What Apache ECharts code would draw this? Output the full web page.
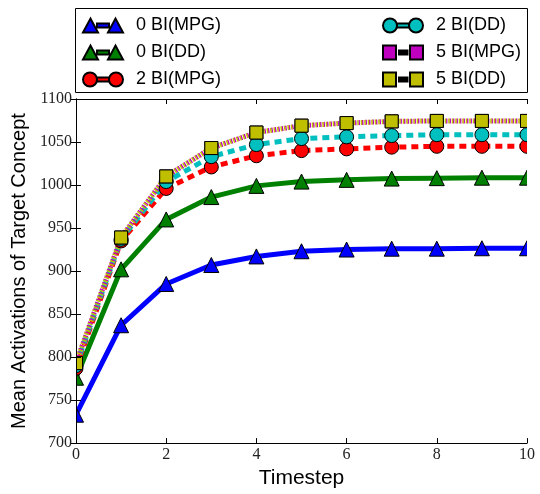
<!DOCTYPE html>
<html>
<head>
<meta charset="utf-8">
<script src="https://cdn.jsdelivr.net/npm/echarts@6/dist/echarts.min.js"></script>
<style>html,body{margin:0;padding:0;background:#fff;}#c{width:540px;height:494px;}</style>
</head>
<body>
<div id="c"></div>
<script>
var timesteps = [0, 1, 2, 3, 4, 5, 6, 7, 8, 9, 10];
var bi0MPG = [733, 837, 885, 907, 917, 923, 925, 926, 926, 926.5, 926.5];
var bi0DD  = [776, 902, 960, 986, 999, 1004, 1006, 1007.5, 1008, 1008.5, 1008.5];
var bi2MPG = [787, 935, 996, 1021, 1034, 1040, 1042, 1044, 1045, 1045, 1045];
var bi2DD  = [790, 937, 1004, 1033, 1047, 1054, 1056, 1057.5, 1058.5, 1058.5, 1058.5];
var bi5MPG = [793, 939, 1010, 1043, 1061, 1069, 1072, 1074, 1074.5, 1074.5, 1074.5];
var bi5DD  = [793, 939, 1010, 1043, 1061, 1069, 1072, 1074, 1074.5, 1074.5, 1074.5];
var yTicks = [700, 750, 800, 850, 900, 950, 1000, 1050, 1100];
var xTicks = [0, 2, 4, 6, 8, 10];

function pairs(v) { return timesteps.map(function (t, i) { return [t, v[i]]; }); }

var triIcon = 'path://M0,14 L7.5,0 L15,14 Z M14,5 L26,5 L26,9 L14,9 Z M25,14 L32.5,0 L40,14 Z';
var cirIcon = 'path://M0,7 A7,7 0 1,1 14,7 A7,7 0 1,1 0,7 Z M14,5 L26,5 L26,9 L14,9 Z M26,7 A7,7 0 1,1 40,7 A7,7 0 1,1 26,7 Z';
var sqIcon = 'path://M0,0 L13,0 L13,14 L0,14 Z M16,5 L17.5,5 L17.5,9 L16,9 Z M19.5,5 L21,5 L21,9 L19.5,9 Z M23,5 L24.5,5 L24.5,9 L23,9 Z M27,0 L40,0 L40,14 L27,14 Z';

function mk(name, data, color, symbol, size, ltype, dashOffset) {
  return {
    name: name, type: 'line', data: pairs(data),
    symbol: symbol, symbolSize: size, clip: true, z: 2,
    lineStyle: { color: color, width: 5, type: ltype, dashOffset: dashOffset || 0, cap: 'butt' },
    itemStyle: { color: color, borderColor: '#000', borderWidth: 1 },
    emphasis: { disabled: true }, animation: false
  };
}

var serif = 'Liberation Serif, DejaVu Serif, serif';
var sans = 'Liberation Sans, Arial, sans-serif';

var legendCommon = {
  orient: 'vertical', itemWidth: 40, itemHeight: 14, itemGap: 8,
  textStyle: { fontFamily: sans, fontSize: 18, color: '#000', padding: [0, 0, 0, 8], lineHeight: 19 },
  selectedMode: false
};

var GL = 76, GR = 13, GT = 99, GB = 44;

var option = {
  animation: false,
  backgroundColor: '#fff',
  grid: { left: GL, right: GR, top: GT, bottom: GB, containLabel: false },
  legend: [
    Object.assign({}, legendCommon, { left: 77, top: 11, data: [
      { name: '0 BI(MPG)', icon: triIcon },
      { name: '0 BI(DD)', icon: triIcon },
      { name: '2 BI(MPG)', icon: cirIcon }
    ]}),
    Object.assign({}, legendCommon, { left: 377, top: 11, data: [
      { name: '2 BI(DD)', icon: cirIcon },
      { name: '5 BI(MPG)', icon: sqIcon },
      { name: '5 BI(DD)', icon: sqIcon }
    ]})
  ],
  graphic: [{
    type: 'rect', shape: { x: 75.5, y: 8.5, width: 452, height: 84 },
    style: { fill: 'none', stroke: '#000', lineWidth: 1 }, z: 100, silent: true
  }, {
    // white masks that clip markers overflowing the plot area at left/right
    type: 'rect', shape: { x: 0, y: GT - 4, width: GL, height: 494 - GT - GB + 8 },
    style: { fill: '#fff' }, z: 5, silent: true
  }, {
    type: 'rect', shape: { x: 540 - GR, y: GT - 4, width: GR, height: 494 - GT - GB + 8 },
    style: { fill: '#fff' }, z: 5, silent: true
  }],
  xAxis: [{
    type: 'value', min: xTicks[0], max: xTicks[xTicks.length - 1], interval: 2, z: 10,
    name: 'Timestep', nameLocation: 'middle', nameGap: 22,
    nameTextStyle: { fontFamily: sans, fontSize: 21, color: '#000' },
    axisLine: { show: true, lineStyle: { color: '#000', width: 1 } },
    axisTick: { show: true, inside: true, length: 5, lineStyle: { color: '#000' } },
    axisLabel: { fontFamily: serif, fontSize: 16, color: '#222', margin: 4 },
    splitLine: { show: false }
  }, {
    type: 'value', position: 'top', min: xTicks[0], max: xTicks[xTicks.length - 1], interval: 2, z: 10,
    axisLine: { show: true, lineStyle: { color: '#000', width: 1 } },
    axisTick: { show: true, inside: true, length: 5, lineStyle: { color: '#000' } },
    axisLabel: { show: false }, splitLine: { show: false }
  }],
  yAxis: [{
    type: 'value', min: yTicks[0], max: yTicks[yTicks.length - 1], interval: 50, z: 10,
    name: 'Mean Activations of Target Concept', nameLocation: 'middle', nameGap: 46,
    nameTextStyle: { fontFamily: sans, fontSize: 20, color: '#000' },
    axisLine: { show: true, lineStyle: { color: '#000', width: 1 } },
    axisTick: { show: true, inside: true, length: 5, lineStyle: { color: '#000' } },
    axisLabel: { fontFamily: serif, fontSize: 16, color: '#222', margin: 4, formatter: function (v) { return String(v); } },
    splitLine: { show: false }
  }, {
    type: 'value', position: 'right', min: yTicks[0], max: yTicks[yTicks.length - 1], interval: 50, z: 10,
    axisLine: { show: true, lineStyle: { color: '#000', width: 1 } },
    axisTick: { show: true, inside: true, length: 5, lineStyle: { color: '#000' } },
    axisLabel: { show: false }, splitLine: { show: false }
  }],
  series: [
    mk('0 BI(MPG)', bi0MPG, '#0000ff', 'triangle', 15, 'solid'),
    mk('0 BI(DD)', bi0DD, '#008000', 'triangle', 15, 'solid'),
    mk('2 BI(MPG)', bi2MPG, '#ff0000', 'circle', 14, [7, 5]),
    mk('2 BI(DD)', bi2DD, '#00bfbf', 'circle', 14, [7, 5]),
    mk('5 BI(MPG)', bi5MPG, '#bf00bf', 'rect', 13, [1.5, 2]),
    mk('5 BI(DD)', bi5DD, '#bfbf00', 'rect', 13, [1.5, 2], 1.2)
  ]
};

var chart = echarts.init(document.getElementById('c'), null, { renderer: 'canvas' });
chart.setOption(option);
</script>
</body>
</html>
